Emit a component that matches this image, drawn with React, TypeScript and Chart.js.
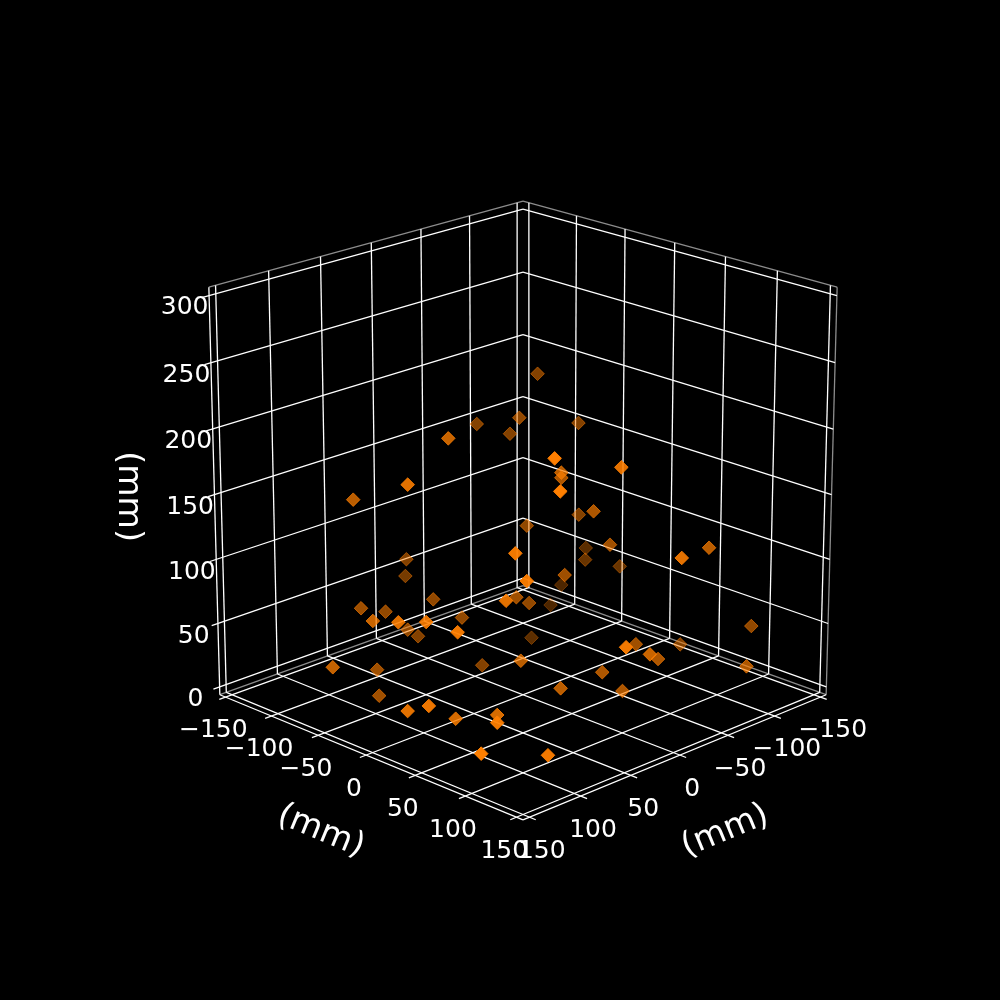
import React, { useRef, useEffect } from "react";
import { Chart, registerables } from "chart.js";

Chart.register(...registerables);

// positions in mm
const xs = [-76.1,-44.2,-35.6,-51.1,53.3,109.8,97.5,62.3,-28.9,82.8,25.0,14.5,81.9,-88.5,-12.0,-25.8,65.1,1.6,-72.3,-36.3,-114.1,-53.6,-97.0,-113.9,-12.8,-73.4,-25.1,-108.9,32.3,84.8,59.0,122.4,137.7,124.0,20.7,50.8,32.7,124.3,81.0,3.5,-16.4,-99.5,-67.0,4.6,41.0,146.3,87.4,90.9,146.8,146.0,111.8,90.6,120.2,146.3,100.9,25.7,46.1,-49.3,-10.3,-43.2,-101.7,-12.6,-19.6,-86.8,-126.7];
const ys = [-61.0,-48.0,-83.5,-64.6,-21.4,-3.8,-73.5,93.0,-25.0,75.3,-95.9,-108.3,85.6,-31.0,26.6,13.1,101.3,98.5,-14.5,35.3,-47.6,35.3,-31.6,-12.2,143.6,114.0,17.5,-68.1,-60.1,-80.7,-82.5,-27.7,14.9,28.6,-42.1,-67.9,-76.1,60.4,64.3,-3.3,-10.1,-70.1,-58.0,-37.7,38.8,-44.3,-61.7,-56.1,33.1,53.7,45.0,65.0,95.0,105.7,125.3,63.6,146.8,66.0,116.6,93.8,61.2,67.8,81.3,139.9,108.3];
const zs = [209.6,186.2,174.8,168.0,200.8,184.7,152.3,216.6,111.9,147.2,81.0,61.5,129.1,175.5,170.5,159.7,195.2,196.1,111.9,136.9,65.6,106.5,65.1,60.4,136.4,119.9,85.8,31.5,61.2,63.1,52.7,78.7,94.0,94.2,48.6,40.3,27.6,95.6,108.2,70.6,58.7,17.2,3.2,7.5,43.8,45.2,21.1,3.3,34.7,44.5,21.9,24.4,36.5,24.4,15.2,25.2,86.7,38.5,56.4,36.7,22.0,27.7,15.0,31.7,42.8];

const xTicks = [-150, -100, -50, 0, 50, 100, 150];
const yTicks = [-150, -100, -50, 0, 50, 100, 150];
const zTicks = [0, 50, 100, 150, 200, 250, 300];

// view of the 3D box: elevation 20, azimuth 45, camera distance 10
const elev = (20 * Math.PI) / 180;
const azim = (45 * Math.PI) / 180;
const dist = 10;
const focalX = 4189;
const focalY = 4162;
const cx = 523;
const cy = 494.6;
const pad = 6.25;
const tickLen = 6;

const lo = -150 - pad;
const hi = 150 + pad;
const zLo = 0 - pad;
const zHi = 300 + pad;

function view(x: number, y: number, z: number) {
  const bx = x / 300;
  const by = y / 300;
  const bz = (z - 150) / 300;
  const sa = Math.sin(azim);
  const ca = Math.cos(azim);
  const se = Math.sin(elev);
  const ce = Math.cos(elev);
  const u = -sa * bx + ca * by;
  const v = -se * ca * bx - se * sa * by + ce * bz;
  const w = ce * ca * bx + ce * sa * by + se * bz;
  return { x: cx + (u * focalX) / (dist - w), y: cy - (v * focalY) / (dist - w), w };
}

const segment = (a: number[], b: number[]) => [view(a[0], a[1], a[2]), view(b[0], b[1], b[2])];

const gridSegments = [
  ...xTicks.map((t) => segment([t, lo, zLo], [t, hi + tickLen, zLo])),
  ...yTicks.map((t) => segment([lo, t, zLo], [hi + tickLen, t, zLo])),
  ...xTicks.map((t) => segment([t, lo, zLo], [t, lo, zHi])),
  ...yTicks.map((t) => segment([lo, t, zLo], [lo, t, zHi])),
  ...zTicks.map((t) => segment([hi + tickLen, lo, t], [lo, lo, t])),
  ...zTicks.map((t) => segment([lo, lo, t], [lo, hi, t])),
];

// the panes are open: the back vertical edge is not drawn
const paneSegments = [
  segment([lo, lo, zLo], [lo, hi, zLo]),
  segment([lo, hi, zLo], [lo, hi, zHi]),
  segment([lo, hi, zHi], [lo, lo, zHi]),
  segment([lo, lo, zLo], [hi, lo, zLo]),
  segment([hi, lo, zHi], [lo, lo, zHi]),
];

const axisSegments = [
  segment([lo, hi, zLo], [hi, hi, zLo]),
  segment([hi, lo, zLo], [hi, hi, zLo]),
  segment([hi, lo, zLo], [hi, lo, zHi]),
];

const lineSet = (seg: any[], color: string, width: number) => ({
  data: seg,
  showLine: true,
  borderColor: color,
  borderWidth: width,
  pointRadius: 0,
});

const fmt = (t: number) => String(t).replace("-", "\u2212");

const labelPlugin = {
  id: "boxLabels",
  afterDatasetsDraw(chart: any) {
    const { ctx, scales } = chart;
    const put = (p: any, dx: number, dy: number, text: string, size: number, rot = 0) => {
      ctx.save();
      ctx.translate(scales.x.getPixelForValue(p.x) + dx, scales.y.getPixelForValue(p.y) + dy);
      ctx.rotate(rot);
      ctx.font = `${size}px 'DejaVu Sans'`;
      ctx.fillStyle = "#ffffff";
      ctx.textAlign = "center";
      ctx.textBaseline = "middle";
      ctx.fillText(text, 0, 0);
      ctx.restore();
    };
    xTicks.forEach((t) => put(view(t, hi + tickLen, zLo), 6, 31.5, fmt(t), 25));
    yTicks.forEach((t) => put(view(hi + tickLen, t, zLo), -6, 31.5, fmt(t), 25));
    zTicks.forEach((t) => put(view(hi + tickLen, lo, t), -18, 10.5, fmt(t), 25));
    const a0 = view(hi, lo, zLo);
    const a1 = view(hi, hi, zLo);
    const tilt = Math.atan2(a1.y - a0.y, a1.x - a0.x);
    put(view(hi + tickLen, 0, zLo), -39, 74, "(mm)", 33.3, tilt);
    put(view(0, hi + tickLen, zLo), 39, 74, "(mm)", 33.3, -tilt);
    put(view(hi + tickLen, lo, 150), -80, 0, "(mm)", 33.3, Math.PI / 2);
  },
};

export default function App() {
  const canvasRef = useRef<HTMLCanvasElement>(null);

  useEffect(() => {
    const projected = xs.map((x, i) => view(x, ys[i], zs[i]));
    const depths = projected.map((p) => p.w);
    const nearest = Math.max(...depths);
    const farthest = Math.min(...depths);
    const points = [...projected].sort((a, b) => a.w - b.w);
    const colors = points.map((p) => {
      const alpha = 1 - (0.7 * (nearest - p.w)) / (nearest - farthest);
      return `rgba(255,127,0,${alpha.toFixed(3)})`;
    });

    const chart = new Chart(canvasRef.current as HTMLCanvasElement, {
      type: "scatter",
      data: {
        datasets: [
          {
            data: points,
            pointStyle: "rectRot",
            pointRadius: 6.8,
            pointBackgroundColor: colors,
            pointBorderColor: colors,
            pointBorderWidth: 1,
          },
          ...axisSegments.map((s) => lineSet(s, "#ffffff", 1.3)),
          ...gridSegments.map((s) => lineSet(s, "#ffffff", 1.3)),
          ...paneSegments.map((s) => lineSet(s, "rgba(255,255,255,0.55)", 1.3)),
        ] as any,
      },
      options: {
        animation: false,
        responsive: false,
        devicePixelRatio: 1,
        parsing: false,
        layout: { padding: 0, autoPadding: false },
        plugins: { legend: { display: false }, tooltip: { enabled: false } },
        scales: {
          x: { type: "linear", display: false, min: 0, max: 1000 },
          y: { type: "linear", display: false, min: 0, max: 1000, reverse: true },
        },
      },
      plugins: [labelPlugin],
    });
    return () => chart.destroy();
  }, []);

  return (
    <div style={{ position: "fixed", left: 0, top: 0, width: 1000, height: 1000, background: "#000000" }}>
      <canvas ref={canvasRef} width={1000} height={1000} style={{ display: "block" }} />
    </div>
  );
}
